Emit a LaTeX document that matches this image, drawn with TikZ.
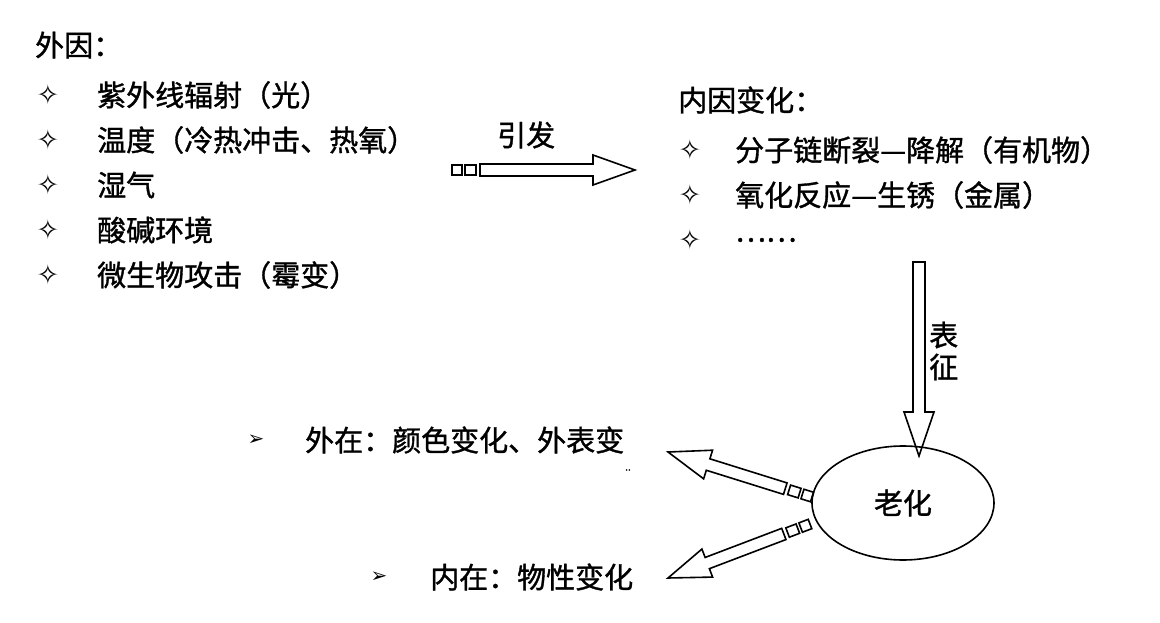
\documentclass[tikz,border=0pt]{standalone}
\usepackage{fontspec}
\setmainfont{Noto Sans CJK SC}[FakeBold=1.2]
\newfontfamily\symfont{DejaVu Sans}
\usetikzlibrary{calc,shapes.geometric}

\tikzset{
  txt/.style={anchor=west,inner sep=0pt,font=\fontsize{29pt}{29pt}\selectfont},
  star/.style={anchor=center,inner sep=0pt,font=\symfont\fontsize{27pt}{27pt}\selectfont},
}
% fat outlined arrow with two small boxes at its tail
\newcommand\fatarrow[2]{%
  \draw[line width=1.6pt,line join=miter] let \p1=($(#2)-(#1)$), \n1={atan2(\y1,\x1)}, \n2={veclen(\x1,\y1)} in
    [shift={(#1)},rotate=\n1]
    (0,-5) rectangle (10,5) (13,-5) rectangle (24,5)
    (28,-6) -- (\n2-42,-6) -- (\n2-42,-15) -- (\n2,0) -- (\n2-42,15) -- (\n2-42,6) -- (28,6) -- cycle;}

\begin{document}
\begin{tikzpicture}[x=1pt,y=-1pt]
\useasboundingbox (0,0) rectangle (1160,623);

% external causes
\node[txt] (wy) at (35,45) {外因：};
\foreach \t [count=\i] in {紫外线辐射（光）,温度（冷热冲击、热氧）,湿气,酸碱环境,微生物攻击（霉变）}{
  \node[star] (ws\i) at (48,50+45*\i) {✧};
  \node[txt] (wt\i) at (97,50+45*\i) {\t};
}

% internal changes
\node[txt] (ny) at (678,100) {内因变化：};
\foreach \t [count=\i] in {分子链断裂—降解（有机物）,氧化反应—生锈（金属）,……}{
  \node[star] (ns\i) at (690,105+45*\i) {✧};
  \node[txt] (nt\i) at (735,105+45*\i) {\t};
}

\node[txt] (yf) at (497,135) {引发};
\coordinate (a1s) at (452,170);
\coordinate (a1e) at (635,170);
\fatarrow{a1s}{a1e}

\node[txt] (b1) at (929,335) {表};
\node[txt] (b2) at (929,367) {征};
\coordinate (a2s) at (919,262);
\coordinate (a2e) at (919,456);
\draw[line width=1.6pt,line join=miter] (913,262) -- (913,412) -- (904,412) -- (a2e) -- (934,412) -- (925,412) -- (925,262) -- cycle;

\node[draw,ellipse,line width=1.6pt,minimum width=182pt,minimum height=114pt,inner sep=0pt] (lh) at (903,503) {};
\node[txt,anchor=center] (lht) at (lh) {老化};

% appearance
\node[star,font=\symfont\fontsize{20pt}{20pt}\selectfont] (o1) at (256,440) {➢};
\node[txt] (o1t) at (305,440) {外在：颜色变化、外表变};
\node[inner sep=0pt,font=\fontsize{10pt}{10pt}\selectfont] (o1d) at (628,470) {..};
\node[star,font=\symfont\fontsize{20pt}{20pt}\selectfont] (o2) at (379,577) {➢};
\node[txt] (o2t) at (430,577) {内在：物性变化};

\coordinate (a3s) at (812,497);
\coordinate (a3e) at (668,452);
\fatarrow{a3s}{a3e}
\coordinate (a4s) at (810,524);
\coordinate (a4e) at (668,578);
\fatarrow{a4s}{a4e}
\end{tikzpicture}
\end{document}
